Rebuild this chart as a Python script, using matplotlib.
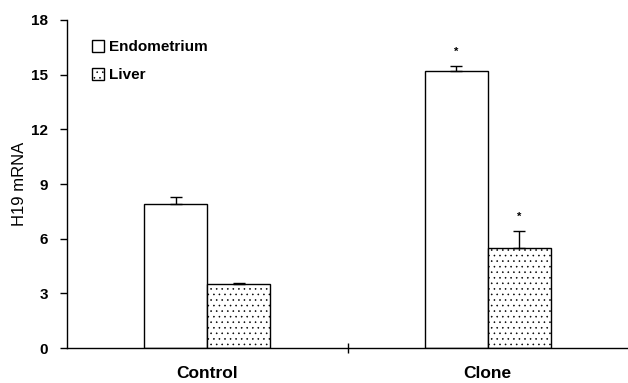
import matplotlib.pyplot as plt
import numpy as np

# H19 mRNA expression
groups = ['Control', 'Clone']
endometrium = [7.9, 15.2]
endometrium_err = [0.4, 0.3]
liver = [3.5, 5.5]
liver_err = [0.05, 0.95]
endo_sig = ['', '*']
liver_sig = ['', '*']

plt.rcParams['font.family'] = ['Liberation Sans', 'DejaVu Sans']
plt.rcParams['hatch.color'] = '0.4'
plt.rcParams['hatch.linewidth'] = 0.4

fig = plt.figure(figsize=(6.28, 3.83), dpi=100)
ax = fig.add_axes([0.107, 0.091, 0.893, 0.857])

x = np.arange(len(groups))
w = 0.225

ax.bar(x - w / 2, endometrium, w, color='white', edgecolor='black',
       linewidth=1.0, label='Endometrium')
ax.bar(x + w / 2, liver, w, color='white', edgecolor='black',
       linewidth=1.0, hatch='...', label='Liver')
ax.errorbar(x - w / 2, endometrium, yerr=[np.zeros(2), endometrium_err],
            fmt='none', ecolor='black', elinewidth=1.0, capsize=4, capthick=1.0)
ax.errorbar(x + w / 2, liver, yerr=[np.zeros(2), liver_err],
            fmt='none', ecolor='black', elinewidth=1.0, capsize=4, capthick=1.0)

for i in range(len(groups)):
    if endo_sig[i]:
        ax.text(x[i] - w / 2, endometrium[i] + endometrium_err[i] + 0.5, endo_sig[i],
                ha='center', va='bottom', fontsize=8, fontweight='bold')
    if liver_sig[i]:
        ax.text(x[i] + w / 2, liver[i] + liver_err[i] + 0.5, liver_sig[i],
                ha='center', va='bottom', fontsize=8, fontweight='bold')

ax.set_xlim(-0.5, 1.5)
ax.set_ylim(0, 18)
ax.set_yticks(np.arange(0, 19, 3))
ax.set_xticks(x)
ax.set_xticklabels(groups, fontsize=12.5, fontweight='bold')
ax.tick_params(axis='x', length=0, pad=13)
ax.set_xticks([0.5], minor=True)
ax.tick_params(axis='x', which='minor', direction='inout', length=7, width=1)
ax.tick_params(axis='y', direction='out', length=5, width=1, labelsize=11, pad=9)
for lab in ax.get_yticklabels():
    lab.set_fontweight('bold')

ax.spines['top'].set_visible(False)
ax.spines['right'].set_visible(False)
ax.spines['left'].set_linewidth(1.0)
ax.spines['bottom'].set_linewidth(1.0)

ax.set_ylabel('H19 mRNA', fontsize=12, labelpad=3)

ax.legend(loc='upper left', bbox_to_anchor=(0.02, 0.98), frameon=False,
          handlelength=0.8, handleheight=0.8, handletextpad=0.3,
          labelspacing=0.9, prop={'weight': 'bold', 'size': 11})

fig.savefig('out.png', dpi=100)
